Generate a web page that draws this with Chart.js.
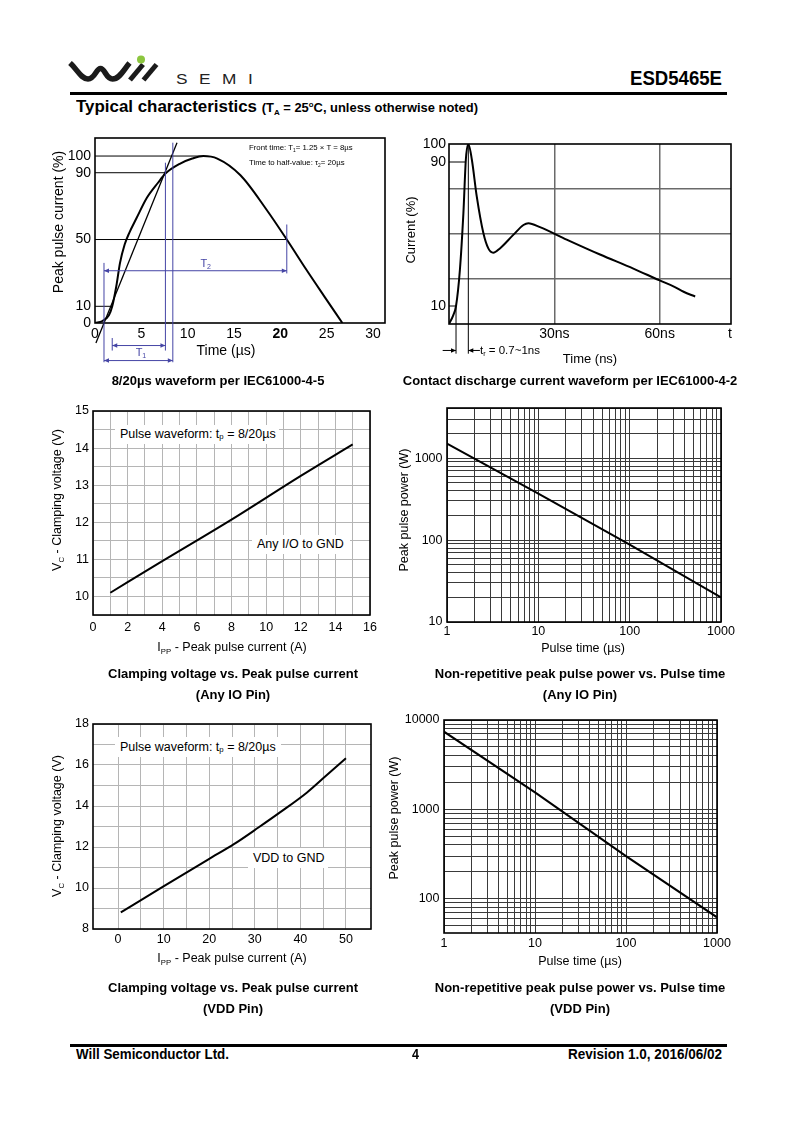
<!DOCTYPE html>
<html><head><meta charset="utf-8">
<script src="https://cdn.jsdelivr.net/npm/chart.js@4.4.1/dist/chart.umd.min.js"></script>
<style>
body{margin:0;width:800px;height:1131px;background:#fff;position:relative;font-family:"Liberation Sans",Arial,sans-serif;color:#000;overflow:hidden}
.a{position:absolute;white-space:nowrap;line-height:1;z-index:2}
canvas{position:absolute;z-index:1}
.c{transform:translate(-50%,-50%)}
.r{transform:translate(-50%,-50%) rotate(-90deg)}
.b{font-weight:bold}
.s{font-size:62%;position:relative;top:0.35em}
.box{background:#fff;display:flex;align-items:center;padding-left:5px;box-sizing:border-box}
</style></head><body>

<svg style="position:absolute;left:0;top:0;z-index:2" width="800" height="100">
  <path d="M70,63 C77,69 81,79 88,79 C95,79 96,68.5 100.5,68.5 C105,68.5 106,79 112.5,79 C119.5,79 123.5,70 129.5,63" fill="none" stroke="#1b1b1b" stroke-width="5.5"/>
  <path d="M130,80 L143,64.5" stroke="#1b1b1b" stroke-width="5"/>
  <path d="M143.5,80 L156.5,64.5" stroke="#1b1b1b" stroke-width="5"/>
  <circle cx="141" cy="59.5" r="4" fill="#8cc63f"/>
</svg>
<div class="a" id="semi" style="left:176px;top:71px;font-size:15px;letter-spacing:10px;color:#222;transform:scaleX(1.15);transform-origin:left top">SEMI</div>
<div class="a b" id="pn" style="left:630px;top:67px;font-size:21px;transform-origin:left top">ESD5465E</div>
<div class="a" style="left:70px;top:92px;width:657px;height:3px;background:#000"></div>
<div class="a b" id="tc" style="left:76px;top:98px;transform-origin:left top"><span style="font-size:17px">Typical characteristics </span><span style="font-size:13px">(T<span class="s">A</span> = 25<sup style="font-size:60%">o</sup>C, unless otherwise noted)</span></div>

<canvas id="c1"></canvas><canvas id="c2"></canvas><canvas id="c3"></canvas>
<canvas id="c4"></canvas><canvas id="c5"></canvas><canvas id="c6"></canvas>

<!-- chart 1 texts -->
<div class="a r" style="left:58px;top:222px;font-size:14px">Peak pulse current (%)</div>
<div class="a c" style="left:226px;top:350px;font-size:14px">Time (µs)</div>
<div class="a" style="left:249px;top:144px;font-size:7.8px">Front time: T<span class="s">1</span>= 1.25 × T = 8µs</div>
<div class="a" style="left:249px;top:159px;font-size:7.8px">Time to half-value: τ<span class="s">2</span>= 20µs</div>
<div class="a c b" style="left:218px;top:380px;font-size:13px">8/20µs waveform per IEC61000-4-5</div>

<!-- chart 2 texts -->
<div class="a r" style="left:410px;top:230px;font-size:13px">Current (%)</div>
<div class="a c" style="left:590px;top:358px;font-size:13px">Time (ns)</div>
<div class="a" style="left:480px;top:345px;font-size:11.5px">t<span class="s">r</span> = 0.7~1ns</div>
<div class="a c b" style="left:570px;top:380px;font-size:13px">Contact discharge current waveform per IEC61000-4-2</div>

<!-- chart 3 texts -->
<div class="a r" style="left:57px;top:500px;font-size:12.5px">V<span class="s">C</span> - Clamping voltage (V)</div>
<div class="a c" style="left:232px;top:647px;font-size:12.5px">I<span class="s">PP</span> - Peak pulse current (A)</div>
<div class="a box" style="left:115px;top:425px;width:164px;height:19px;font-size:12.5px">Pulse waveform: t<span class="s">p</span>&nbsp;= 8/20µs</div>
<div class="a box" style="left:252px;top:535px;width:98px;height:19px;font-size:12.5px">Any I/O to GND</div>
<div class="a c b" style="left:233px;top:673px;font-size:13px">Clamping voltage vs. Peak pulse current</div>
<div class="a c b" style="left:233px;top:694px;font-size:13px">(Any IO Pin)</div>

<!-- chart 4 texts -->
<div class="a r" style="left:404px;top:510px;font-size:12.5px">Peak pulse power (W)</div>
<div class="a c" style="left:583px;top:648px;font-size:12.5px">Pulse time (µs)</div>
<div class="a c b" style="left:580px;top:673px;font-size:13px">Non-repetitive peak pulse power vs. Pulse time</div>
<div class="a c b" style="left:580px;top:694px;font-size:13px">(Any IO Pin)</div>

<!-- chart 5 texts -->
<div class="a r" style="left:57px;top:826px;font-size:12.5px">V<span class="s">C</span> - Clamping voltage (V)</div>
<div class="a c" style="left:232px;top:958px;font-size:12.5px">I<span class="s">PP</span> - Peak pulse current (A)</div>
<div class="a box" style="left:115px;top:737px;width:166px;height:20px;font-size:12.5px">Pulse waveform: t<span class="s">p</span>&nbsp;= 8/20µs</div>
<div class="a box" style="left:248px;top:848px;width:80px;height:20px;font-size:12.5px">VDD to GND</div>
<div class="a c b" style="left:233px;top:987px;font-size:13px">Clamping voltage vs. Peak pulse current</div>
<div class="a c b" style="left:233px;top:1008px;font-size:13px">(VDD Pin)</div>

<!-- chart 6 texts -->
<div class="a r" style="left:394px;top:818px;font-size:12.5px">Peak pulse power (W)</div>
<div class="a c" style="left:580px;top:961px;font-size:12.5px">Pulse time (µs)</div>
<div class="a c b" style="left:580px;top:987px;font-size:13px">Non-repetitive peak pulse power vs. Pulse time</div>
<div class="a c b" style="left:580px;top:1008px;font-size:13px">(VDD Pin)</div>

<!-- footer -->
<div class="a" style="left:70px;top:1044px;width:657px;height:3px;background:#000"></div>
<div class="a b" id="f1" style="left:76px;top:1047px;font-size:14px;transform-origin:left top">Will Semiconductor Ltd.</div>
<div class="a b" id="f2" style="left:412px;top:1047px;font-size:14px;transform-origin:left top">4</div>
<div class="a b" id="f3" style="left:568px;top:1047px;font-size:14px;transform-origin:left top">Revision 1.0, 2016/06/02</div>

<script>
// ---------------- DATA ----------------
// Chart 1: 8/20us waveform
const waveT = [0, 0.8, 1.5, 1.86, 2.3, 2.7, 3.2, 3.7, 4.5, 5.6, 6.8, 7.6, 9.2, 10.5, 11.7, 13.2, 15.7, 18.5, 20.7, 22.8, 24.8, 26.7];
const waveI = [0, 1.2, 4.6, 10, 22, 36, 47, 54, 63, 75, 84, 89.5, 95.5, 98.5, 100, 98.5, 88.5, 68, 50, 32, 15.5, 0];
const tangentT = [0.1, 8.85];
const tangentI = [-12, 108];
const c1RefLevels = [100, 90, 50, 10];
const c1RefEnds = [11.7, 7.6, 20.7, 1.86];
const c1Markers = [[0.97, 36, -23.5], [1.86, -9, -16.5], [7.6, 96, -16.5], [8.4, 108, -23.5], [20.7, 59, 29.7]];
const c1Spans = [[0.97, 20.7, 31.3, 11.4, 35.5, '2'], [1.86, 7.6, -13.5, 4.4, -18, '1'], [0.97, 8.4, -22.5, null, null, '']];
const c1XTicks = [0, 5, 10, 15, 20, 25, 30];
const c1YTicks = [0, 10, 50, 90, 100];

// Chart 2: ESD contact discharge waveform
const esdT = [0, 1.2, 2.0, 3.1, 4.1, 4.8, 5.5, 6.5, 7.9, 9.8, 11.2, 12.6, 14.5, 18.3, 21.2, 22.6, 25.9, 33.5, 43, 52.5, 60, 63.9, 66.8, 70.1];
const esdI = [0, 4.8, 10, 30, 61.6, 91.4, 100, 91.4, 70.9, 50.4, 42, 39.6, 42, 49.5, 55, 56, 53.8, 46.9, 38.6, 30.8, 24.2, 20.9, 17.9, 15.3];
const c2XTicks = [30, 60, 80];
const c2XLabels = ['30ns', '60ns', 't'];
const c2YTicks = [10, 25, 50, 75, 90, 100];
const c2YLabeled = [10, 90, 100];
const c2RefLevels = [90, 10];
const c2RefEnds = [4.8, 2.0];
const c2Markers = [[2.0, 10, -16.5], [5.5, 100, -16.5]];
const c2Arrows = [[-1.8, 2.0, -14.7], [8.8, 5.5, -14.7]];

// Chart 3: clamping voltage vs Ipp (Any IO)
const ioIpp = [1, 4, 8, 12, 15];
const ioVc = [10.1, 10.95, 12.07, 13.25, 14.1];
const c3XGrid = [0,1,2,3,4,5,6,7,8,9,10,11,12,13,14,15,16];
const c3XLabels = [0, 2, 4, 6, 8, 10, 12, 14, 16];
const c3YGrid = [9.5,10,10.5,11,11.5,12,12.5,13,13.5,14,14.5,15];
const c3YLabels = [10, 11, 12, 13, 14, 15];

// Chart 4: peak pulse power vs pulse time (Any IO)
const ioTp = [1, 10, 100, 1000];
const ioPpp = [1500, 370, 88, 20];

// Chart 5: clamping voltage vs Ipp (VDD)
const vddIpp = [0.6, 9.6, 20, 25.5, 30.8, 35.6, 41.4, 45.5, 50];
const vddVc = [8.81, 10.03, 11.42, 12.15, 12.95, 13.7, 14.65, 15.45, 16.33];
const c5XGrid = [0, 5, 10, 15, 20, 25, 30, 35, 40, 45, 50];
const c5XLabels = [0, 10, 20, 30, 40, 50];
const c5YGrid = [8,9,10,11,12,13,14,15,16,17,18];
const c5YLabels = [8, 10, 12, 14, 16, 18];

// Chart 6: peak pulse power vs pulse time (VDD)
const vddTp = [1, 10, 100, 1000];
const vddPpp = [7400, 1550, 300, 62];

const logLabels = [1, 10, 100, 1000, 10000];
const logMantissas = [1, 2, 3, 4, 5, 6, 7, 8, 9];

// ---------------- HELPERS ----------------
const FONT = '"Liberation Sans", Arial, sans-serif';
Chart.defaults.font.family = FONT;
Chart.defaults.color = '#000';
const BLUE = '#4545a5';

function pts(xs, ys) { return xs.map((x, i) => ({x: x, y: ys[i]})); }
function logGrid(lo, hi) {
  const out = [];
  for (let d = 0.001; d <= 100000; d *= 10) logMantissas.forEach(m => { const v = +(m * d).toPrecision(3); if (v >= lo - 1e-9 && v <= hi + 1e-9) out.push(v); });
  return out;
}
function axis(o) {
  return {
    type: o.type || 'linear', min: o.min, max: o.max,
    afterBuildTicks: s => { s.ticks = o.ticks.map(v => ({value: v})); },
    ticks: {autoSkip: false, maxRotation: 0, minRotation: 0, padding: o.pad, color: '#000',
      font: o.font || {size: 12.5}, callback: v => o.label(v)},
    grid: {drawTicks: false, lineWidth: o.gw || 1,
      color: ctx => (ctx.tick && o.grid(ctx.tick.value)) || 'rgba(0,0,0,0)'},
    border: {display: false}
  };
}
function line(data, extra) {
  return Object.assign({data: data, borderColor: '#000', borderWidth: 2, pointRadius: 0, fill: false,
    cubicInterpolationMode: 'monotone'}, extra || {});
}
const frame = {id: 'frame', afterDraw(ch) {
  const a = ch.chartArea, c = ch.ctx; c.save(); c.strokeStyle = '#000'; c.lineWidth = 1.6;
  c.strokeRect(a.left, a.top, a.right - a.left, a.bottom - a.top); c.restore();
}};
function seg(c, x0, y0, x1, y1) { c.beginPath(); c.moveTo(x0, y0); c.lineTo(x1, y1); c.stroke(); }
function head(c, x, y, dir) {
  c.beginPath(); c.moveTo(x, y); c.lineTo(x - dir * 5, y - 2.2); c.lineTo(x - dir * 5, y + 2.2); c.closePath(); c.fill();
}
function mk(id, B, P, cfg) {
  const cv = document.getElementById(id);
  const W = B.r - B.l + P.l + P.r, H = B.b - B.t + P.t + P.b;
  Object.assign(cv.style, {left: (B.l - P.l) + 'px', top: (B.t - P.t) + 'px', width: W + 'px', height: H + 'px'});
  cv.width = W; cv.height = H;
  const o = cfg.options;
  o.responsive = false; o.maintainAspectRatio = false; o.animation = false;
  o.layout = {padding: {left: 0, top: P.t, right: P.r, bottom: 0}};
  o.scales.x.afterFit = s => { s.height = P.b; };
  o.scales.y.afterFit = s => { s.width = P.l; };
  o.plugins = {legend: {display: false}, tooltip: {enabled: false}};
  return new Chart(cv, cfg);
}
const PAD = {l: 60, t: 20, r: 30, b: 45};

// ---------------- CHART 1 ----------------
const c1Ann = {id: 'c1ann', afterDraw(ch) {
  const X = ch.scales.x, Y = ch.scales.y, c = ch.ctx;
  const px = v => X.getPixelForValue(v), py = v => Y.getPixelForValue(v);
  c.save();
  c.strokeStyle = '#000'; c.lineWidth = 1;
  c1RefLevels.forEach((lv, i) => seg(c, px(0), py(lv), px(c1RefEnds[i]), py(lv)));
  c.strokeStyle = BLUE; c.fillStyle = BLUE; c.lineWidth = 1;
  c1Markers.forEach(m => seg(c, px(m[0]), py(m[1]), px(m[0]), py(m[2])));
  c1Spans.forEach(s => {
    const x0 = px(s[0]), x1 = px(s[1]), y = py(s[2]);
    seg(c, x0, y, x1, y); head(c, x0, y, -1); head(c, x1, y, 1);
    if (s[5]) {
      const lx = px(s[3]), ly = py(s[4]);
      c.font = '11px ' + FONT; c.textBaseline = 'middle'; c.fillText('T', lx, ly);
      c.font = '7px ' + FONT; c.fillText(s[5], lx + 6.5, ly + 3);
    }
  });
  c.restore();
}};
mk('c1', {l: 95, t: 138, r: 385, b: 323}, PAD, {
  type: 'line',
  data: {datasets: [
    line(pts(waveT, waveI)),
    line(pts(tangentT, tangentI), {borderWidth: 1.3, cubicInterpolationMode: 'default', tension: 0, clip: false})
  ]},
  options: {scales: {
    x: axis({min: 0, max: 31.3, ticks: c1XTicks, pad: 3, label: v => String(v), grid: () => null,
      font: ctx => ({size: 14, weight: ctx.tick && ctx.tick.value === 20 ? 'bold' : 'normal'})}),
    y: axis({min: 0, max: 110.8, ticks: c1YTicks, pad: 4, label: v => String(v), grid: () => null, font: {size: 14}})
  }},
  plugins: [frame, c1Ann]
});

// ---------------- CHART 2 ----------------
const c2Ann = {id: 'c2ann', afterDraw(ch) {
  const X = ch.scales.x, Y = ch.scales.y, c = ch.ctx;
  const px = v => X.getPixelForValue(v), py = v => Y.getPixelForValue(v);
  c.save(); c.strokeStyle = '#000'; c.fillStyle = '#000'; c.lineWidth = 1;
  c2RefLevels.forEach((lv, i) => seg(c, px(0), py(lv), px(c2RefEnds[i]), py(lv)));
  c2Markers.forEach(m => seg(c, px(m[0]), py(m[1]), px(m[0]), py(m[2])));
  c2Arrows.forEach(a => { seg(c, px(a[0]), py(a[2]), px(a[1]), py(a[2])); head(c, px(a[1]), py(a[2]), a[1] > a[0] ? 1 : -1); });
  c.restore();
}};
mk('c2', {l: 449, t: 144, r: 731, b: 324}, PAD, {
  type: 'line',
  data: {datasets: [line(pts(esdT, esdI))]},
  options: {scales: {
    x: axis({min: 0, max: 80.3, ticks: c2XTicks, pad: 2, font: {size: 14},
      label: v => c2XLabels[c2XTicks.indexOf(v)], grid: v => (v === 30 || v === 60) ? '#6a6a6a' : null, gw: 1.5}),
    y: axis({min: 0, max: 100, ticks: c2YTicks, pad: 3, font: {size: 14},
      label: v => c2YLabeled.includes(v) ? String(v) : '', grid: v => c2YLabeled.includes(v) ? null : '#6a6a6a', gw: 1.5})
  }},
  plugins: [frame, c2Ann]
});

// ---------------- CHART 3 ----------------
mk('c3', {l: 93, t: 411, r: 370, b: 615}, PAD, {
  type: 'line',
  data: {datasets: [line(pts(ioIpp, ioVc))]},
  options: {scales: {
    x: axis({min: 0, max: 16, ticks: c3XGrid, pad: 5.5, label: v => c3XLabels.includes(v) ? String(v) : '', grid: () => '#b5b5b5'}),
    y: axis({min: 9.5, max: 15, ticks: c3YGrid, pad: 4, label: v => c3YLabels.includes(v) ? String(v) : '', grid: () => '#b5b5b5'})
  }},
  plugins: [frame]
});

// ---------------- CHART 4 ----------------
mk('c4', {l: 447, t: 408, r: 721, b: 622}, PAD, {
  type: 'line',
  data: {datasets: [line(pts(ioTp, ioPpp), {cubicInterpolationMode: 'default', tension: 0})]},
  options: {scales: {
    x: axis({type: 'logarithmic', min: 1, max: 1000, ticks: logGrid(1, 1000), pad: 2.5,
      label: v => logLabels.includes(v) ? String(v) : '', grid: () => '#3a3a3a'}),
    y: axis({type: 'logarithmic', min: 10, max: 4090, ticks: logGrid(10, 4090), pad: 4.5,
      label: v => logLabels.includes(v) ? String(v) : '', grid: () => '#3a3a3a'})
  }},
  plugins: [frame]
});

// ---------------- CHART 5 ----------------
mk('c5', {l: 93, t: 724, r: 371, b: 929}, PAD, {
  type: 'line',
  data: {datasets: [line(pts(vddIpp, vddVc))]},
  options: {scales: {
    x: axis({min: -5.5, max: 55.5, ticks: c5XGrid, pad: 3.5, label: v => c5XLabels.includes(v) ? String(v) : '', grid: () => '#b5b5b5'}),
    y: axis({min: 8, max: 18, ticks: c5YGrid, pad: 4, label: v => c5YLabels.includes(v) ? String(v) : '', grid: () => '#b5b5b5'})
  }},
  plugins: [frame]
});

// ---------------- CHART 6 ----------------
mk('c6', {l: 444, t: 720, r: 717, b: 933}, PAD, {
  type: 'line',
  data: {datasets: [line(pts(vddTp, vddPpp), {cubicInterpolationMode: 'default', tension: 0})]},
  options: {scales: {
    x: axis({type: 'logarithmic', min: 1, max: 1000, ticks: logGrid(1, 1000), pad: 3.5,
      label: v => logLabels.includes(v) ? String(v) : '', grid: () => '#3a3a3a'}),
    y: axis({type: 'logarithmic', min: 41.4, max: 10000, ticks: logGrid(41.4, 10000), pad: 4.5,
      label: v => logLabels.includes(v) ? String(v) : '', grid: () => '#3a3a3a'})
  }},
  plugins: [frame]
});

// ---------------- text width fitting ----------------
function fitW(id, w) {
  const e = document.getElementById(id); const n = e.getBoundingClientRect().width;
  e.style.transform = 'scaleX(' + (w / n) + ')';
}
fitW('pn', 92); fitW('tc', 402); fitW('f1', 153); fitW('f3', 154); fitW('f2', 7);
</script>
</body></html>
